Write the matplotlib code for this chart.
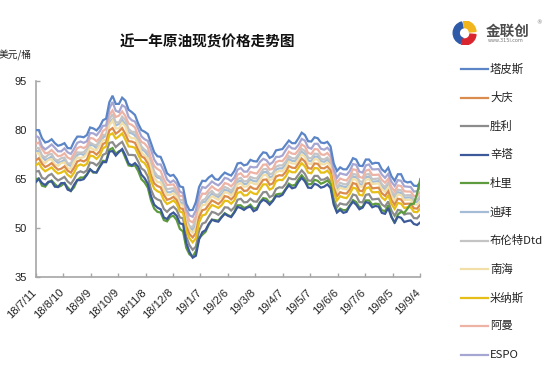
import numpy as np
import pandas as pd
import matplotlib
matplotlib.use('Agg')
import matplotlib.pyplot as plt
from matplotlib.lines import Line2D
from matplotlib.patches import Wedge
import matplotlib.transforms as mtransforms

CJK = ['Noto Sans CJK SC', 'DejaVu Sans']
plt.rcParams['font.family'] = CJK

# ---------------- data ----------------
dates = pd.date_range('2018-07-11', '2019-09-04', freq='84h')   # twice-weekly samples
tick_dates = pd.to_datetime(['2018-07-11', '2018-08-10', '2018-09-09', '2018-10-09', '2018-11-08',
                             '2018-12-08', '2019-01-07', '2019-02-06', '2019-03-08', '2019-04-07',
                             '2019-05-07', '2019-06-06', '2019-07-06', '2019-08-05', '2019-09-04'])
tick_labels = ['18/7/11', '18/8/10', '18/9/9', '18/10/9', '18/11/8', '18/12/8', '19/1/7', '19/2/6',
               '19/3/8', '19/4/7', '19/5/7', '19/6/6', '19/7/6', '19/8/5', '19/9/4']
y_ticks = [35, 50, 65, 80, 95]

tapis = [80.0, 80.0, 77.5, 76.2, 76.5, 77.2, 76.0, 75.2, 75.5, 76.0, 74.5, 74.4, 76.5, 78.0, 78.0, 77.8, 78.5, 80.8, 80.5, 79.9,
         81.0, 83.0, 83.5, 88.5, 90.5, 88.0, 88.0, 89.9, 89.0, 86.2, 85.5, 84.6, 82.0, 80.0, 79.5, 78.8, 76.0, 73.2, 72.0, 71.8,
         69.5, 66.8, 66.0, 66.3, 65.0, 62.8, 62.5, 57.5, 55.5, 55.6, 58.0, 62.6, 64.5, 64.4, 65.5, 66.2, 65.0, 64.8, 66.0, 67.0,
         66.5, 66.1, 67.5, 69.8, 70.0, 69.2, 69.5, 70.9, 70.5, 70.4, 72.0, 73.2, 73.0, 71.5, 72.0, 73.8, 74.0, 74.2, 75.5, 76.8,
         76.0, 76.0, 77.5, 79.2, 78.5, 76.6, 76.5, 77.8, 77.5, 76.2, 76.0, 76.4, 75.0, 69.8, 67.5, 68.6, 68.0, 68.0, 69.5, 71.4,
         71.0, 69.1, 69.0, 71.0, 71.0, 69.7, 70.0, 69.9, 68.0, 67.2, 68.5, 65.9, 64.5, 66.5, 66.5, 64.4, 64.0, 64.2, 63.0, 62.9, 64.0]
daqing = [70.7, 71.4, 69.7, 68.7, 69.2, 69.9, 68.8, 67.9, 68.2, 68.9, 67.6, 67.0, 68.5, 70.4, 70.8, 70.4, 71.0, 73.4, 73.3, 72.5,
          73.5, 75.7, 76.3, 79.9, 80.6, 78.9, 79.6, 80.6, 78.8, 76.6, 76.5, 76.1, 73.9, 72.0, 71.4, 69.8, 66.1, 63.7, 62.9, 62.5,
          60.2, 58.7, 59.0, 59.6, 58.6, 56.2, 55.8, 50.5, 48.2, 47.2, 48.5, 53.4, 55.5, 55.8, 57.2, 58.5, 58.0, 57.4, 58.3, 59.8,
          59.6, 58.8, 59.8, 62.2, 62.5, 61.4, 61.5, 62.7, 62.1, 62.0, 63.4, 64.8, 64.9, 63.3, 63.7, 65.8, 66.2, 66.1, 67.2, 69.0,
          68.5, 68.4, 69.8, 71.3, 70.4, 68.4, 68.2, 69.8, 69.7, 68.4, 68.3, 68.9, 67.7, 62.4, 59.8, 61.0, 60.7, 60.6, 61.8, 63.8,
          63.5, 61.5, 61.3, 63.6, 63.8, 62.2, 62.3, 62.4, 60.7, 59.9, 61.3, 58.6, 57.2, 59.0, 58.8, 57.4, 57.5, 57.5, 56.1, 56.0, 57.2]
shengli = [67.3, 67.5, 65.4, 65.0, 66.1, 66.6, 65.4, 64.6, 65.1, 65.7, 64.3, 63.5, 65.0, 66.9, 67.4, 67.0, 67.7, 70.1, 69.9, 69.2,
           70.2, 72.4, 72.9, 76.1, 76.3, 74.8, 75.7, 76.4, 74.4, 72.4, 72.4, 72.3, 70.4, 68.3, 67.6, 65.8, 61.8, 59.5, 58.8, 58.4,
           55.9, 55.0, 56.0, 56.6, 55.6, 53.3, 53.0, 47.4, 44.8, 43.4, 44.4, 49.3, 51.4, 51.8, 53.5, 55.0, 54.7, 54.1, 54.9, 56.4,
           56.3, 55.4, 56.4, 58.7, 59.0, 57.9, 58.0, 59.0, 58.2, 58.1, 59.6, 61.0, 61.1, 59.5, 60.0, 62.0, 62.5, 62.4, 63.5, 65.4,
           65.0, 65.0, 66.4, 67.7, 66.6, 64.6, 64.5, 66.0, 66.0, 64.8, 64.9, 65.5, 64.3, 59.0, 56.4, 57.6, 57.3, 57.2, 58.4, 60.3,
           60.0, 58.0, 57.9, 60.2, 60.4, 58.8, 58.9, 59.0, 57.3, 56.6, 58.2, 55.4, 53.8, 55.6, 55.4, 54.2, 54.5, 54.5, 53.1, 53.0, 54.1]
sinta = [64.0, 65.1, 63.8, 63.2, 64.2, 64.3, 62.7, 62.6, 63.8, 63.8, 61.8, 61.4, 63.3, 64.7, 64.7, 65.0, 66.3, 68.0, 67.2, 67.0,
         68.7, 70.2, 70.2, 73.4, 73.6, 72.2, 73.3, 74.2, 72.3, 69.8, 69.2, 69.9, 68.8, 66.4, 65.3, 63.6, 59.8, 57.2, 56.3, 55.8,
         53.3, 52.8, 54.2, 54.8, 53.8, 51.5, 51.2, 45.5, 42.8, 41.0, 41.6, 46.6, 48.8, 49.4, 51.3, 52.6, 52.2, 52.0, 53.3, 54.4,
         53.8, 53.4, 54.8, 56.5, 56.2, 55.6, 56.3, 56.6, 55.2, 55.7, 57.8, 58.7, 58.2, 57.2, 58.3, 59.8, 59.7, 60.2, 61.8, 63.1,
         62.2, 62.5, 64.2, 65.4, 64.3, 62.4, 62.3, 63.6, 63.2, 62.4, 62.7, 63.4, 62.3, 57.2, 54.8, 55.6, 54.7, 55.0, 56.8, 58.1,
         57.2, 55.8, 56.3, 58.0, 57.7, 56.4, 56.8, 56.6, 54.7, 54.4, 56.2, 53.4, 51.8, 53.5, 53.2, 51.9, 52.2, 52.4, 51.3, 51.0, 51.8]
duri = [65.0, 65.2, 63.0, 62.7, 64.0, 64.6, 63.5, 62.6, 63.0, 63.8, 62.5, 61.4, 62.5, 64.7, 65.5, 65.5, 66.5, 68.0, 67.0, 67.1,
        69.0, 70.6, 70.5, 74.0, 74.5, 72.8, 73.5, 73.9, 71.5, 69.2, 69.0, 69.2, 67.5, 65.0, 64.0, 62.4, 58.5, 56.0, 55.0, 54.8,
        52.5, 52.1, 53.5, 53.8, 52.5, 49.8, 49.0, 44.0, 42.0, 41.3, 43.0, 46.9, 48.0, 48.9, 51.0, 52.6, 52.5, 52.3, 53.5, 54.6,
        54.0, 53.6, 55.0, 57.0, 57.0, 56.2, 56.5, 57.2, 56.0, 56.2, 58.0, 59.2, 59.0, 57.8, 58.5, 60.3, 60.5, 60.6, 62.0, 63.6,
        63.0, 63.3, 65.0, 66.2, 65.0, 63.4, 63.5, 64.8, 64.5, 63.6, 64.0, 64.6, 63.5, 57.8, 55.0, 56.0, 55.5, 55.6, 57.0, 58.6,
        58.0, 56.4, 56.5, 58.5, 58.5, 57.2, 57.5, 57.4, 55.5, 55.2, 57.0, 53.6, 51.5, 54.2, 55.0, 54.7, 56.0, 57.4, 57.5, 60.6, 65.0]
dubai = [73.2, 73.8, 71.9, 70.8, 71.3, 71.9, 70.8, 70.0, 70.3, 70.9, 69.5, 69.0, 70.6, 72.4, 72.8, 72.4, 73.1, 75.5, 75.3, 74.5,
         75.5, 77.7, 78.3, 82.3, 83.3, 81.4, 81.9, 83.1, 81.6, 79.3, 79.0, 78.4, 76.0, 74.1, 73.6, 72.3, 68.8, 66.4, 65.5, 65.2,
         62.8, 61.0, 61.0, 61.5, 60.4, 58.0, 57.6, 52.4, 50.2, 49.5, 51.1, 55.9, 58.0, 58.1, 59.4, 60.6, 60.0, 59.5, 60.3, 61.7,
         61.5, 60.8, 61.8, 64.2, 64.5, 63.5, 63.6, 64.9, 64.4, 64.3, 65.7, 67.1, 67.2, 65.6, 65.9, 67.9, 68.3, 68.3, 69.4, 71.1,
         70.6, 70.5, 71.8, 73.4, 72.7, 70.7, 70.4, 71.9, 71.9, 70.5, 70.3, 70.9, 69.7, 64.4, 61.8, 63.0, 62.7, 62.6, 63.8, 65.8,
         65.6, 63.5, 63.3, 65.6, 65.8, 64.2, 64.3, 64.4, 62.7, 61.9, 63.3, 60.6, 59.2, 61.0, 60.8, 59.3, 59.4, 59.4, 58.0, 58.0, 59.2]
brent = [74.6, 74.5, 72.3, 71.6, 72.5, 72.7, 71.1, 70.7, 71.4, 71.6, 69.8, 69.8, 71.9, 73.2, 73.1, 73.2, 74.3, 76.2, 75.6, 75.3,
         76.8, 78.5, 78.6, 83.2, 84.9, 82.4, 82.3, 84.1, 83.1, 80.3, 79.5, 79.4, 77.4, 75.0, 74.0, 73.3, 70.4, 67.4, 66.0, 65.7,
         63.4, 61.9, 62.1, 62.2, 60.6, 58.6, 58.7, 53.2, 50.6, 50.4, 52.5, 56.9, 58.5, 59.0, 60.7, 61.4, 60.3, 60.2, 61.5, 62.6,
         62.2, 61.5, 62.6, 65.0, 65.4, 64.3, 64.4, 65.7, 65.3, 65.2, 66.6, 68.0, 68.1, 66.5, 66.8, 68.8, 69.2, 69.2, 70.3, 72.0,
         71.4, 71.3, 72.6, 74.3, 73.6, 71.6, 71.3, 72.8, 72.7, 71.2, 71.0, 71.6, 70.5, 65.2, 62.6, 63.9, 63.5, 63.4, 64.6, 66.6,
         66.4, 64.4, 64.1, 66.4, 66.6, 65.0, 65.1, 65.2, 63.5, 62.6, 64.0, 61.4, 60.0, 61.8, 61.6, 60.0, 60.1, 60.1, 58.7, 58.7, 59.9]
nanhai = [72.9, 72.9, 70.5, 69.9, 70.9, 71.1, 69.5, 69.1, 69.9, 70.1, 68.3, 68.2, 70.3, 71.6, 71.5, 71.7, 72.8, 74.7, 74.1, 73.8,
          75.3, 76.9, 77.0, 81.4, 82.9, 80.5, 80.5, 82.2, 81.1, 78.3, 77.5, 77.5, 75.8, 73.3, 72.2, 71.4, 68.4, 65.4, 64.1, 64.0,
          61.9, 60.1, 60.2, 60.7, 59.7, 57.3, 56.9, 51.7, 49.5, 48.6, 50.1, 55.0, 57.1, 57.2, 58.6, 59.8, 59.2, 58.7, 59.6, 61.0,
          60.8, 60.0, 61.1, 63.4, 63.8, 62.7, 62.8, 64.1, 63.6, 63.4, 64.8, 66.2, 66.3, 64.7, 65.1, 67.1, 67.5, 67.4, 68.6, 70.3,
          69.8, 69.7, 71.0, 72.6, 71.8, 69.8, 69.6, 71.1, 71.0, 69.6, 69.5, 70.1, 69.0, 63.6, 61.1, 62.4, 62.0, 61.9, 63.1, 65.0,
          64.8, 62.8, 62.6, 64.8, 65.0, 63.5, 63.6, 63.7, 62.0, 61.2, 62.5, 59.9, 58.5, 60.3, 60.1, 58.6, 58.7, 58.7, 57.3, 57.2, 58.4]
minas = [69.2, 69.9, 68.3, 67.4, 68.0, 68.6, 67.5, 66.7, 67.0, 67.6, 66.3, 65.6, 67.0, 69.0, 69.5, 69.1, 69.7, 72.2, 72.0, 71.2,
         72.2, 74.4, 75.0, 78.5, 79.0, 77.4, 78.1, 79.0, 77.1, 75.0, 74.9, 74.6, 72.5, 70.5, 69.9, 68.3, 64.5, 62.1, 61.3, 60.9,
         58.6, 57.4, 57.9, 58.5, 57.5, 55.1, 54.7, 49.3, 46.9, 45.7, 46.9, 51.8, 53.9, 54.2, 55.8, 57.1, 56.7, 56.2, 57.0, 58.4,
         58.3, 57.5, 58.5, 60.8, 61.1, 60.0, 60.1, 61.2, 60.6, 60.4, 61.9, 63.4, 63.4, 61.8, 62.3, 64.4, 64.8, 64.7, 65.8, 67.6,
         67.1, 67.1, 68.5, 69.9, 68.9, 67.0, 66.8, 68.4, 68.3, 67.0, 67.0, 67.6, 66.4, 61.0, 58.5, 59.8, 59.4, 59.2, 60.5, 62.4,
         62.1, 60.2, 60.0, 62.2, 62.5, 61.0, 61.0, 61.1, 59.4, 58.6, 60.1, 57.4, 55.9, 57.7, 57.5, 56.2, 56.4, 56.4, 55.0, 54.9, 56.0]
oman = [75.8, 76.2, 74.2, 72.9, 73.1, 73.9, 72.9, 72.0, 72.2, 72.9, 71.6, 71.1, 72.8, 74.5, 74.9, 74.5, 75.1, 77.6, 77.4, 76.6,
        77.5, 79.7, 80.4, 84.7, 86.0, 84.0, 84.4, 85.7, 84.3, 82.0, 81.6, 80.8, 78.2, 76.4, 75.9, 74.7, 71.4, 69.0, 68.1, 67.5,
        65.0, 63.2, 63.3, 63.4, 61.8, 59.8, 59.9, 54.6, 52.3, 51.8, 53.6, 58.5, 60.6, 60.5, 61.7, 62.8, 62.0, 61.5, 62.4, 63.8,
        63.5, 62.8, 63.9, 66.4, 66.8, 65.7, 65.8, 67.2, 66.9, 66.7, 68.0, 69.4, 69.5, 67.9, 68.2, 70.2, 70.6, 70.5, 71.7, 73.4,
        72.8, 72.7, 73.9, 75.6, 75.0, 73.0, 72.7, 74.2, 74.1, 72.6, 72.4, 73.0, 71.8, 66.4, 63.9, 65.2, 64.8, 64.6, 65.9, 68.0,
        67.8, 65.7, 65.4, 67.6, 67.9, 66.3, 66.3, 66.4, 64.8, 63.9, 65.1, 62.6, 61.3, 63.1, 62.9, 61.3, 61.2, 61.2, 59.8, 59.9, 61.1]
espo = [78.3, 77.7, 75.0, 74.1, 74.8, 75.6, 74.6, 73.5, 73.5, 74.4, 73.2, 72.7, 74.3, 76.1, 76.5, 76.1, 76.6, 79.1, 79.0, 78.4,
        79.6, 81.3, 81.4, 86.5, 88.6, 85.9, 85.5, 87.6, 87.0, 84.0, 83.0, 82.6, 80.4, 78.1, 77.2, 76.7, 74.0, 71.0, 69.5, 69.5,
        67.5, 64.9, 64.0, 64.6, 63.6, 61.2, 60.7, 55.8, 53.9, 53.5, 55.5, 60.4, 62.6, 62.3, 63.2, 64.3, 63.6, 63.1, 64.0, 65.4,
        65.1, 64.4, 65.5, 67.9, 68.4, 67.3, 67.3, 68.8, 68.6, 68.7, 70.3, 71.2, 70.8, 69.5, 70.2, 71.8, 71.8, 72.2, 73.8, 75.2,
        74.4, 74.3, 75.5, 77.3, 76.8, 74.7, 74.3, 75.8, 75.8, 74.3, 74.0, 74.6, 73.5, 68.0, 65.4, 66.8, 66.5, 66.3, 67.5, 69.6,
        69.4, 67.3, 67.0, 69.2, 69.5, 68.0, 68.0, 68.1, 66.4, 65.4, 66.6, 64.2, 62.9, 64.7, 64.5, 62.8, 62.7, 62.6, 61.2, 61.3, 62.5]

series_names = ['塔皮斯', '大庆', '胜利', '辛塔', '杜里', '迪拜', '布伦特Dtd', '南海', '米纳斯', '阿曼', 'ESPO']
series_values = [tapis, daqing, shengli, sinta, duri, dubai, brent, nanhai, minas, oman, espo]
colors = ['#5B85C6', '#D98C4E', '#8C8C8C', '#3C5A9A', '#5E9A3E', '#A5BCD6',
          '#C4C4C4', '#F2DFA8', '#E5BE18', '#EDB3A5', '#A6A6D2']

for nm, vals in zip(series_names, series_values):
    if len(vals) != len(dates):
        raise ValueError(f'{nm}: {len(vals)} values vs {len(dates)} dates')

# ---------------- figure ----------------
W, H = 550, 366
fig = plt.figure(figsize=(W / 100, H / 100), dpi=100)
ax = fig.add_axes([35.6 / W, 1 - 277.3 / H, (420.3 - 35.6) / W, (277.3 - 81) / H])

draw_order = [5, 6, 7, 2, 1, 8, 9, 10, 0, 4, 3]
for i in draw_order:
    ax.plot(dates, series_values[i], color=colors[i], lw=1.6, solid_joinstyle='miter', zorder=3)

ax.set_xlim(dates[0], dates[-1])
ax.set_ylim(35, 95)
ax.set_yticks(y_ticks)
ax.set_xticks(tick_dates)
ax.set_xticklabels(tick_labels, rotation=45, ha='right', va='top',
                   fontsize=8, family=['Liberation Sans', 'DejaVu Sans'], color='#222222')
for lab in ax.get_yticklabels():
    lab.set_fontsize(8)
    lab.set_family(['Liberation Sans', 'DejaVu Sans'])
    lab.set_color('#222222')

for s in ['top', 'right']:
    ax.spines[s].set_visible(False)
for s in ['left', 'bottom']:
    ax.spines[s].set_color('#A6A6A6')
    ax.spines[s].set_linewidth(1.2)
ax.tick_params(axis='both', direction='in', length=3, width=1, color='#A6A6A6')
ax.tick_params(axis='x', pad=7.2)
ax.tick_params(axis='y', pad=6.5)
offset = mtransforms.ScaledTranslation(2.5 / 100, 0, fig.dpi_scale_trans)
for lab in ax.get_xticklabels():
    lab.set_transform(lab.get_transform() + offset)

# title and unit
fig.text(207 / W, 1 - 42 / H, '近一年原油现货价格走势图', ha='center', va='center',
         fontsize=10.5, fontweight='bold', color='#111111')
fig.text(-1 / W, 1 - 55 / H, '美元/桶', ha='left', va='center', fontsize=7, color='#222222')

# legend (manual, right side)
for i, name in enumerate(series_names):
    yy = 1 - (69 + 28.6 * i) / H
    fig.add_artist(Line2D([461 / W, 488 / W], [yy, yy], transform=fig.transFigure,
                          color=colors[i], lw=1.6))
    fig.text(490 / W, yy, name, ha='left', va='center', fontsize=8.2, color='#222222')

# logo
lax = fig.add_axes([449 / W, 1 - 45 / H, 30 / W, 24 / H])
lax.set_xlim(-1.25, 1.25)
lax.set_ylim(-1.0, 1.0)
lax.set_aspect('equal')
lax.axis('off')
lax.add_patch(Wedge((0.05, 0), 0.95, 105, 250, width=0.5, color='#2E5AA8'))
lax.add_patch(Wedge((0.05, 0.05), 0.95, 5, 95, width=0.55, color='#F2B51B'))
lax.add_patch(Wedge((0.05, -0.05), 0.95, 255, 355, width=0.5, color='#D9262E'))
fig.text(486 / W, 1 - 31 / H, '金联创', ha='left', va='center', fontsize=10.5,
         fontweight='bold', color='#4D4D4D')
fig.text(488 / W, 1 - 41 / H, 'www.315i.com', ha='left', va='center', fontsize=3.5,
         color='#777777', family=['DejaVu Sans'])
fig.text(536 / W, 1 - 23 / H, '®', ha='left', va='center', fontsize=4, color='#777777',
         family=['DejaVu Sans'])

fig.savefig('out.png', dpi=100)
